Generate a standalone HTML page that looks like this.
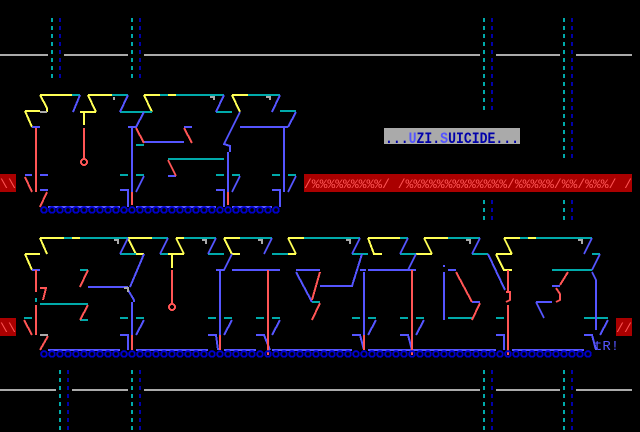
<!DOCTYPE html>
<html><head><meta charset="utf-8"><style>
html,body{margin:0;padding:0;background:#000;}
svg{display:block}
text{font-family:"Liberation Mono",monospace;}
</style></head><body>
<svg width="640" height="432" viewBox="0 0 640 432" xmlns="http://www.w3.org/2000/svg" shape-rendering="crispEdges">
<rect width="640" height="432" fill="#000"/>
<g stroke="#aaaaaa" stroke-width="2">
<path d="M0 55H48M64 55H128M144 55H480M496 55H560M576 55H632"/>
<path d="M0 390H56M72 390H128M144 390H480M496 390H560M576 390H632"/>
</g>
<g stroke-width="2" stroke-dasharray="4 4">
<path stroke="#00aaaa" d="M52 18V78M132 18V78M484 18V110M564 18V158M484 200V222M564 200V222M60 370V430M132 370V430M484 370V430M564 370V430"/>
<path stroke="#0000aa" d="M60 18V78M140 18V78M492 18V110M572 18V158M492 200V222M572 200V222M68 370V430M140 370V430M492 370V430M572 370V430"/>
</g>
<rect x="384" y="128" width="136" height="16" fill="#aaaaaa"/>
<text x="385" y="143" font-size="16" font-weight="bold" fill="#0000aa" textLength="134" lengthAdjust="spacingAndGlyphs">...<tspan fill="#5555ff">U</tspan>ZI.<tspan fill="#5555ff">S</tspan>UICIDE...</text>
<rect x="304" y="174" width="328" height="18" fill="#aa0000"/>
<text x="304" y="188" font-size="13.3" fill="#ff5555" textLength="328" lengthAdjust="spacingAndGlyphs">/%%%%%%%%%/ /%%%%%%%%%%%%%/%%%%%/%%/%%%/ /</text>
<rect x="0" y="174" width="16" height="18" fill="#aa0000"/>
<text x="0" y="188" font-size="13.3" fill="#ff5555">\\</text>
<rect x="0" y="318" width="16" height="18" fill="#aa0000"/>
<text x="0" y="332" font-size="13.3" fill="#ff5555">\\</text>
<rect x="616" y="318" width="16" height="18" fill="#aa0000"/>
<text x="616" y="332" font-size="13.3" fill="#ff5555">//</text>
<g fill="none" stroke-width="2">
<path stroke="#ffff55" d="M40 95H72M40 95L47 108V112M25 111H40M25 111L32 127M88 95H112M88 95L96 112M80 112H96M84 112V125M144 95H160M168 95H176M144 95L152 112M232 95H248M232 95L240 112"/>
<path stroke="#00aaaa" d="M72 95H80M112 95H128M120 112H128M160 95H168M176 95H224M128 112H152M136 145H144M168 159H224M216 112H232M248 95H280M280 111H296M216 175H224M136 175H144M120 175H128M272 175H280M288 175H296M232 175H240"/>
<path stroke="#5555ff" d="M80 95L73 112M128 95L120 112M32 127H40M25 175H32M40 175H48M40 190H48M120 190H128L128 207M48 207H120M144 112L136 127H128M132 128V192M144 142H184M184 127H192M168 176H176M144 176L136 192M224 95L216 112M216 190H224L224 207M136 207H216M240 112L224 144L230 146V152M228 152V192M280 95L272 112M296 112L288 127M240 127H288M284 127V192M296 176L288 192M240 176L232 192M272 190H280L280 207M232 207H272"/>
<path stroke="#ff5555" d="M36 128V192M25 177L32 192M47 192L40 207M84 128V159M136 128L144 143M184 128L192 143M168 160L176 176M132 192V205M228 192V205"/>
<circle cx="84" cy="162" r="3" stroke="#ff5555"/>
<path stroke="#aaaaaa" d="M40 112H47M114 97V100M210 97H214V100M266 97H270V100"/>
<path stroke="#ffff55" d="M40 238H64M72 238H80M40 238L47 254M25 254H40M25 254L32 270M128 238H152M128 238L136 254H144M176 238H184M176 238L184 254M168 254H184M172 254V268M224 238H240M224 238L232 254H240M288 238H304M288 238L296 254M280 254H296M368 238H400M368 238L374 254H382M424 238H448M424 238L432 254M416 254H432M504 238H520M528 238H536M504 238L512 254M496 254H512M496 254L504 270H512"/>
<path stroke="#00aaaa" d="M64 238H72M80 238H128M36 298V302M40 304H88M80 270H88M80 320H88M120 254H136M120 318H128M136 318H144M24 318H32M152 238H168M160 254H168M184 238H216M208 254H224M208 318H216M224 318H232M240 238H256M256 238H272M272 254H288M256 318H264M272 318H280M304 238H360M312 302H320M352 254H368M352 318H360M368 318H376M400 238H408M400 254H416M400 318H408M416 318H424M448 238H480M472 254H488M448 318H472M496 318H504M520 238H528M536 238H592M592 254H600M552 270H592M584 318H608"/>
<path stroke="#5555ff" d="M32 270H40M128 238L120 254M144 254L130 287M88 287H128M128 290L134 300V302M132 302V335M144 320L136 335M120 335H128L128 350M48 350H120M168 238L160 254M216 238L208 254M232 254L224 270H216M220 270V335M232 320L224 335M208 335H216L218 350M136 350H208M272 238L264 254M232 270H280M280 320L272 335M256 335H264L270 350M224 350H256M272 350H352M296 270H320M296 272L312 302M320 286H352L362 254M360 238L352 254M360 270H366M364 272V335M376 320L368 335M352 335H360L364 350M368 350H496M408 238L400 254M416 254L408 270M368 270H416M424 320L416 335M400 335H408L412 350M480 238L472 254M488 254L505 290M444 265V267M444 272V320M448 270H456M472 302H480M496 335H504L504 350M592 238L584 254M600 254L592 270M552 286H560M536 302H552M536 302L544 318M592 272L596 280V330M608 320L600 335M584 335H592L596 350M512 350H584"/>
<path stroke="#ff5555" d="M36 270V292M36 305V335M40 288H46L43 300M88 270L80 287M88 305L80 320M24 320L32 335M48 336L40 350M132 335V350M172 270V304M220 335V350M268 270V355M320 272L312 300M320 303L312 320M364 335V350M412 270V355M456 272L472 302M480 303L472 320M508 270V292M506 292H510V300L506 302M508 305V355M568 272L560 285M556 288L560 294V300L556 302"/>
<circle cx="172" cy="307" r="3" stroke="#ff5555"/>
<path stroke="#aaaaaa" d="M40 335H48M114 240H118V244M202 240H206V244M258 240H262V244M346 240H350V244M466 240H470V244M578 240H582V244M124 288H128V292"/>
</g>
<text x="594" y="350" font-size="14" fill="#5555ff">tR!</text>
<g id="dots" fill="none" stroke="#0000cc" stroke-width="2">
</g>
<script>
(function(){var g=document.getElementById('dots');var ns='http://www.w3.org/2000/svg';
function row(y,x0,x1){for(var x=x0;x<=x1;x+=8){var c=document.createElementNS(ns,'circle');c.setAttribute('cx',x);c.setAttribute('cy',y);c.setAttribute('r',2.8);g.appendChild(c);}}
row(210,44,276);row(354,44,588);})();
</script>
</svg>
</body></html>
